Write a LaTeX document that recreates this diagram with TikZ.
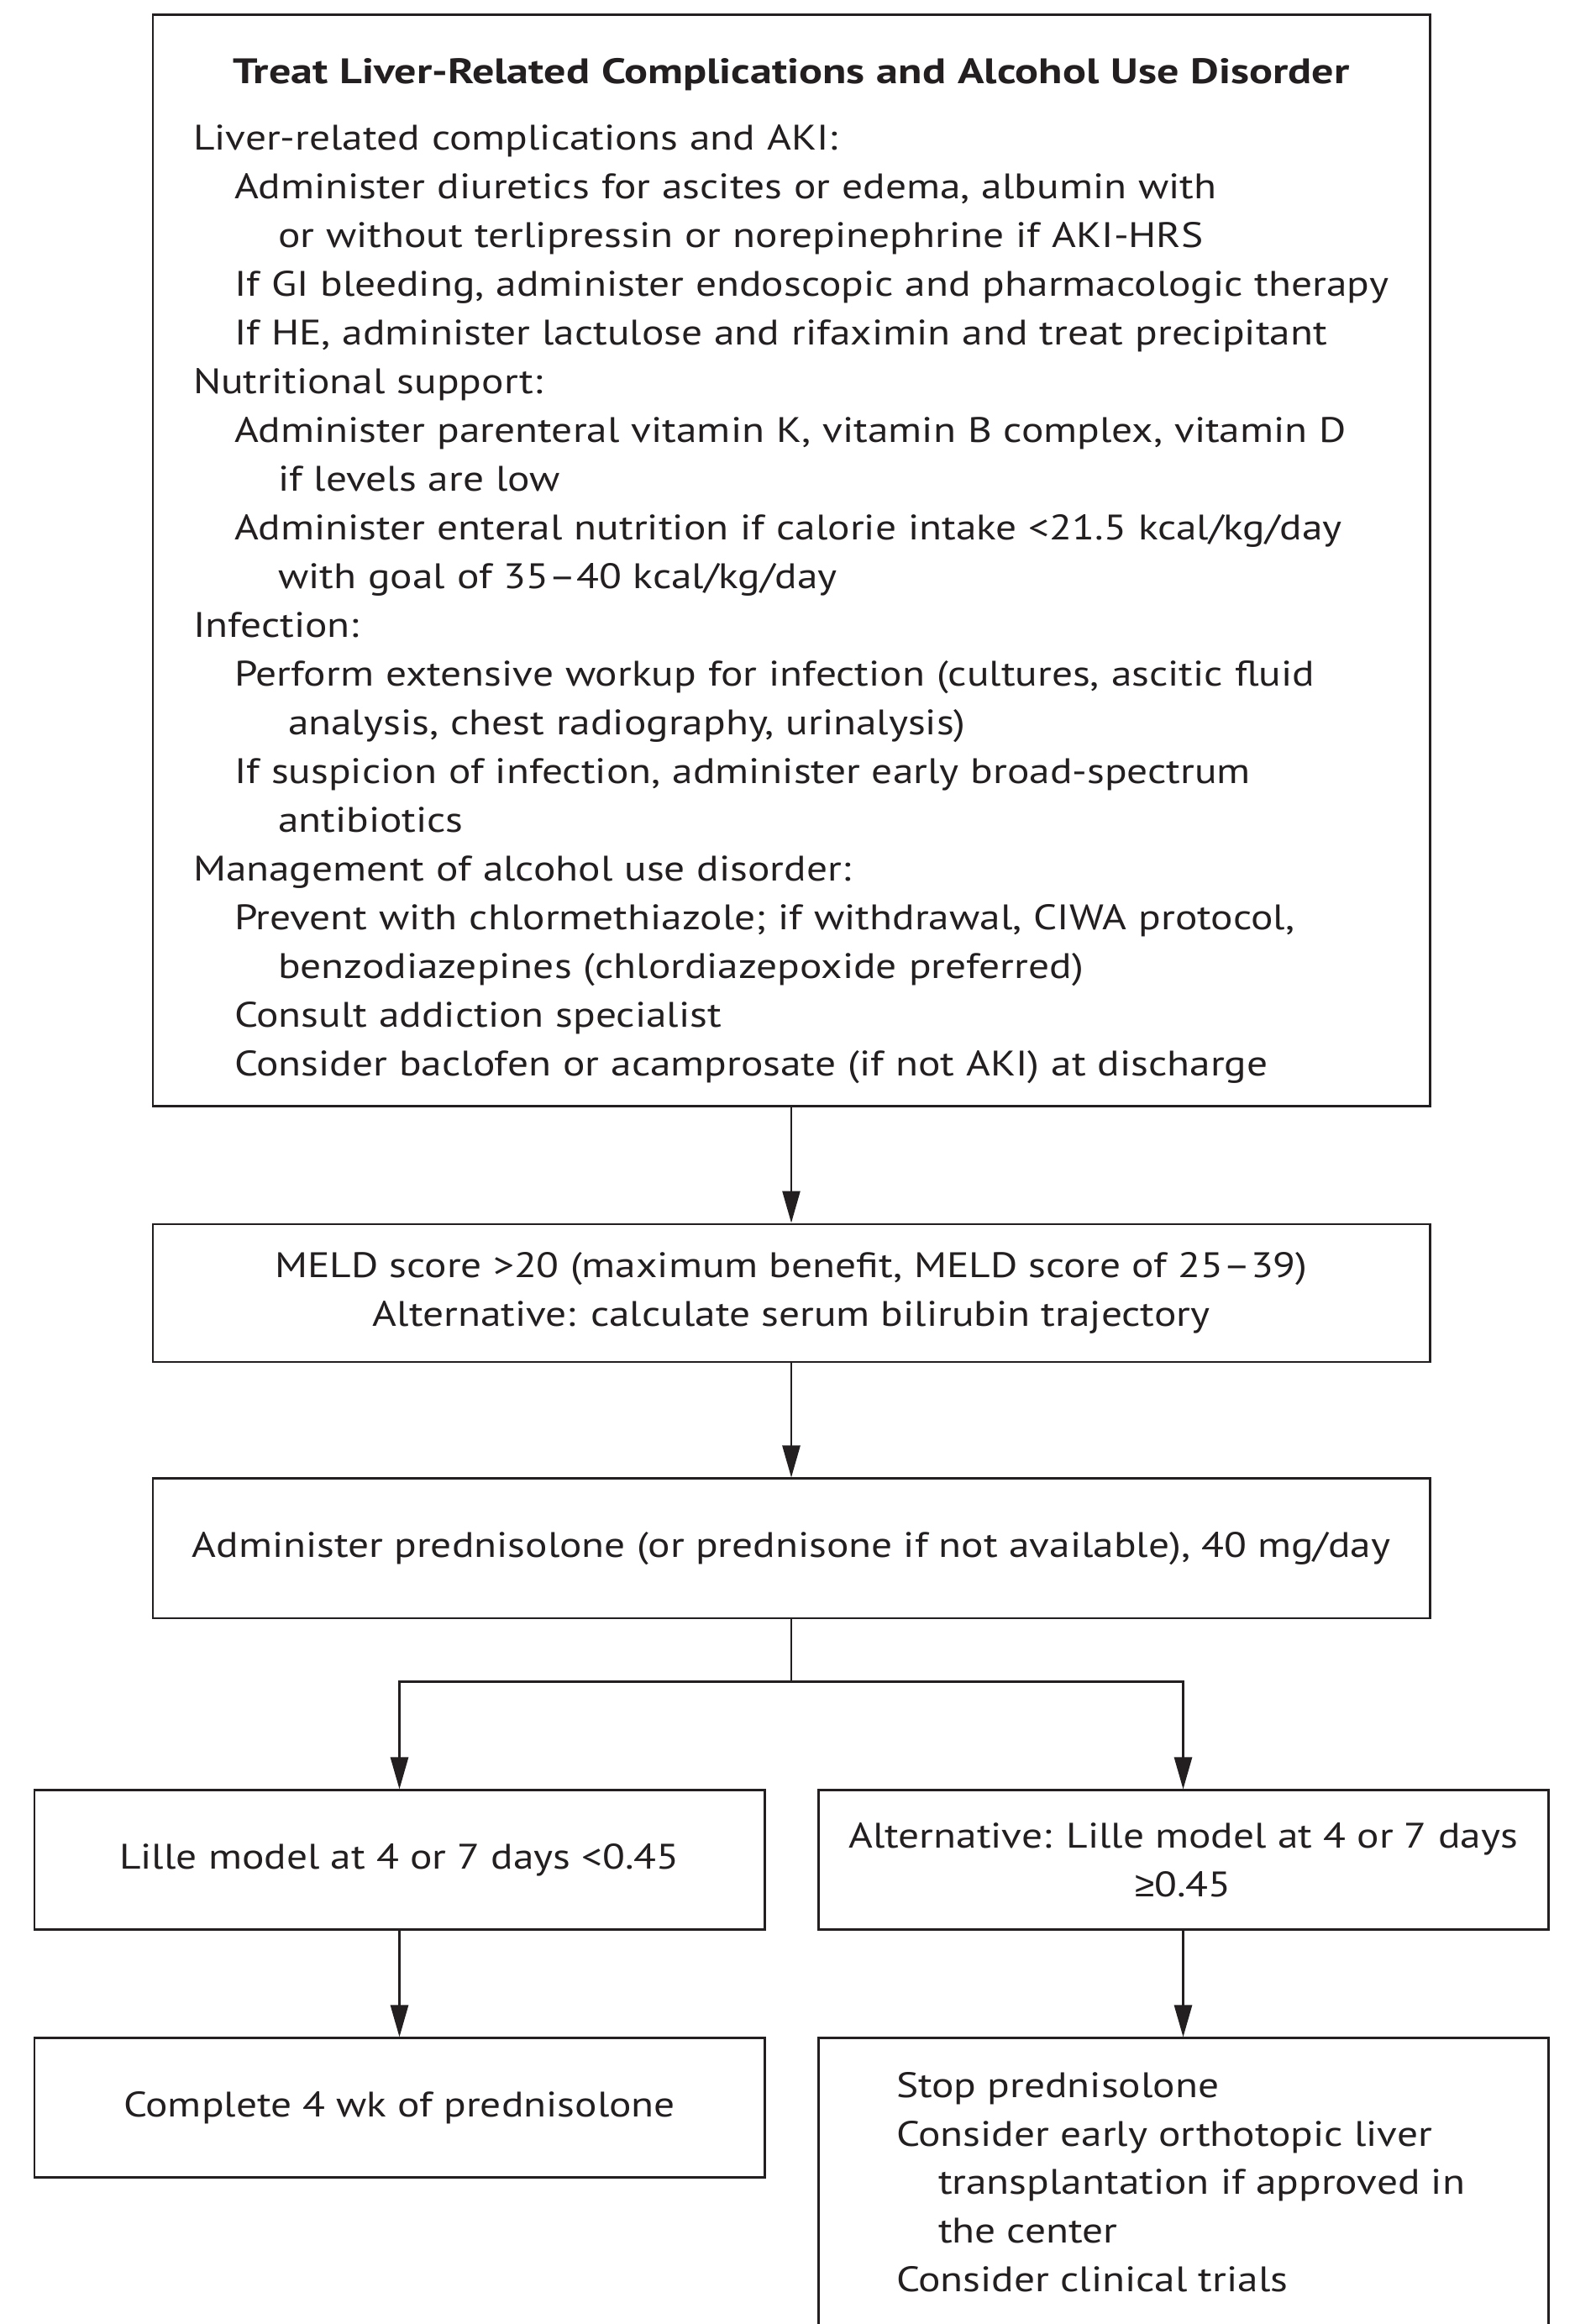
\documentclass[tikz,border=0pt]{standalone}
\usepackage{fontspec}
\setmainfont{PT Sans}[FakeStretch=1.17]
\newfontfamily\titlefont{PT Sans}[FakeStretch=1.235]
\newfontfamily\symfont{Liberation Sans}
\usepackage{tikz}
\usetikzlibrary{arrows.meta, positioning}
\definecolor{ink}{HTML}{231F20}
\newcommand{\stepin}{\hspace*{0.49cm}}
\newcommand{\wrapin}{\hspace*{1.01cm}}
\tikzset{
    block/.style={rectangle, draw=ink, line width=0.85pt, fill=white, text=ink, minimum width=15.2cm, align=center, font=\fontsize{12}{16.5}\selectfont},
    block_half/.style={block, minimum width=8.69cm, minimum height=1.66cm},
    arrow/.style={-{Triangle[length=0.38cm, width=0.21cm]}, draw=ink, line width=0.75pt}
}

\begin{document}
\begin{tikzpicture}[node distance=1.4cm and 0.64cm]
    \useasboundingbox (0,0) rectangle (19,-27.66);
    \clip (0,0) rectangle (19,-27.66);

    % Supportive care
    \node (liver) [block, text width=14.24cm, align=left, inner xsep=0.48cm, minimum height=12.98cm] at (9.42,-6.67) {
        \makebox[14.24cm]{\rule{0pt}{0.55cm}\titlefont\bfseries Treat Liver-Related Complications and Alcohol Use Disorder}\\[0.21cm]
        Liver-related complications and AKI:\\
        \stepin Administer diuretics for ascites or edema, albumin with\\
        \wrapin or without terlipressin or norepinephrine if AKI-HRS\\
        \stepin If GI bleeding, administer endoscopic and pharmacologic therapy\\
        \stepin If HE, administer lactulose and rifaximin and treat precipitant\\
        Nutritional support:\\
        \stepin Administer parenteral vitamin K, vitamin B complex, vitamin D\\
        \wrapin if levels are low\\
        \stepin Administer enteral nutrition if calorie intake <21.5 kcal/kg/day\\
        \wrapin with goal of 35–40 kcal/kg/day\\
        Infection:\\
        \stepin Perform extensive workup for infection (cultures, ascitic fluid\\
        \hspace*{1.13cm}analysis, chest radiography, urinalysis)\\
        \stepin If suspicion of infection, administer early broad-spectrum\\
        \wrapin antibiotics\\
        Management of alcohol use disorder:\\
        \stepin Prevent with chlormethiazole; if withdrawal, CIWA protocol,\\
        \wrapin benzodiazepines (chlordiazepoxide preferred)\\
        \stepin Consult addiction specialist\\
        \stepin Consider baclofen or acamprosate (if not AKI) at discharge
    };

    % Severity and steroids
    \node (meld) [block, minimum height=1.64cm, below=1.38cm of liver] {MELD score >20 (maximum benefit, MELD score of 25–39)\\Alternative: calculate serum bilirubin trajectory};
    \node (pred) [block, minimum height=1.66cm, below=1.36cm of meld] {Administer prednisolone (or prednisone if not available), 40 mg/day};
    \draw [arrow] (liver) -- (meld);
    \draw [arrow] (meld) -- (pred);

    % Lille response
    \coordinate [below=0.74cm of pred] (split);
    \node (lilleL) [block_half, below=2.02cm of pred, xshift=-4.665cm] {Lille model at 4 or 7 days <0.45};
    \node (lilleR) [block_half, below=2.02cm of pred, xshift=4.665cm] {Alternative: Lille model at 4 or 7 days\\{\symfont ≥}0.45};
    \draw [draw=ink, line width=0.75pt] (pred) -- (split);
    \draw [arrow] (split) -| (lilleL);
    \draw [arrow] (split) -| (lilleR);

    % Outcome
    \node (complete) [block_half, below=1.26cm of lilleL] {Complete 4 wk of prednisolone};
    \node (stop) [block_half, below=1.26cm of lilleR, inner xsep=0.93cm, inner ysep=0.40cm] {\parbox[c][3.9cm][t]{6.83cm}{\raggedright
        Stop prednisolone\\
        Consider early orthotopic liver\\
        \hspace*{0.5cm}transplantation if approved in\\
        \hspace*{0.5cm}the center\\
        Consider clinical trials}};
    \draw [arrow] (lilleL) -- (complete);
    \draw [arrow] (lilleR) -- (stop);
\end{tikzpicture}
\end{document}
